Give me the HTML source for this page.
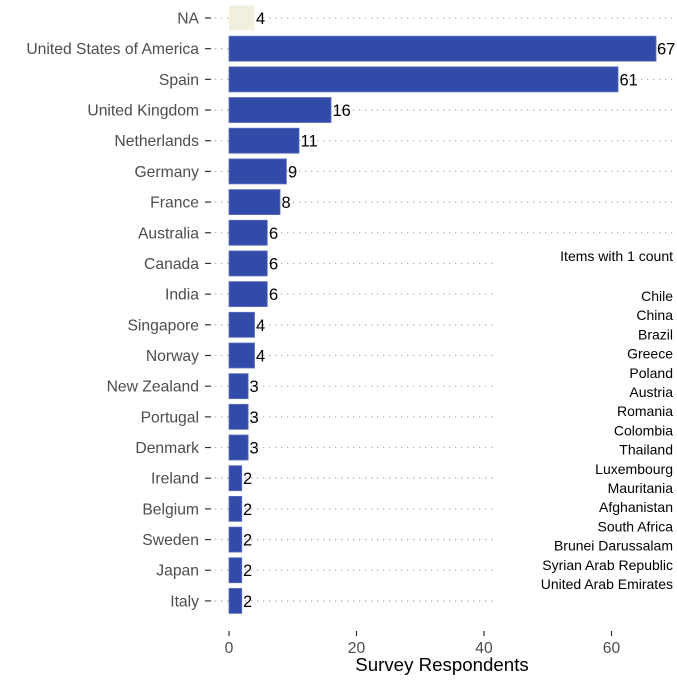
<!DOCTYPE html>
<html><head><style>body{margin:0;background:#fff}</style></head><body>
<svg width="677" height="677" xmlns="http://www.w3.org/2000/svg" font-family="Liberation Sans, sans-serif">
<defs>
<style>
.gl{stroke:#b0b0b0;stroke-width:1.3;stroke-dasharray:1.3,4.7}
.tk{stroke:#333;stroke-width:1.2}
.lb{font-size:15.7px;fill:#4d4d4d;text-anchor:end}
.b{fill:#334ba8;stroke:#5a6fc0;stroke-width:0.8}
.v{font-size:16.5px;fill:#000}
.r{font-size:14px;fill:#000;text-anchor:end}
</style>
</defs>
<g transform="translate(0,18)"><line class="gl" x1="215" x2="685" y1="0" y2="0"/><line class="tk" x1="205" x2="211" y1="0" y2="0"/><text class="lb" x="199" y="5.5">NA</text><rect x="229" y="-12.5" width="25.5" height="25" fill="#f3efdf"/><text class="v" x="256" y="6">4</text></g>
<g transform="translate(0,48.68)"><line class="gl" x1="215" x2="685" y1="0" y2="0"/><line class="tk" x1="205" x2="211" y1="0" y2="0"/><text class="lb" x="199" y="5.5">United States of America</text><rect class="b" x="229" y="-12.5" width="427" height="25"/><text class="v" x="657" y="6">67</text></g>
<g transform="translate(0,79.36)"><line class="gl" x1="215" x2="685" y1="0" y2="0"/><line class="tk" x1="205" x2="211" y1="0" y2="0"/><text class="lb" x="199" y="5.5">Spain</text><rect class="b" x="229" y="-12.5" width="389" height="25"/><text class="v" x="619.5" y="6">61</text></g>
<g transform="translate(0,110.04)"><line class="gl" x1="215" x2="685" y1="0" y2="0"/><line class="tk" x1="205" x2="211" y1="0" y2="0"/><text class="lb" x="199" y="5.5">United Kingdom</text><rect class="b" x="229" y="-12.5" width="102" height="25"/><text class="v" x="332.5" y="6">16</text></g>
<g transform="translate(0,140.72)"><line class="gl" x1="215" x2="685" y1="0" y2="0"/><line class="tk" x1="205" x2="211" y1="0" y2="0"/><text class="lb" x="199" y="5.5">Netherlands</text><rect class="b" x="229" y="-12.5" width="70" height="25"/><text class="v" x="300.5" y="6">11</text></g>
<g transform="translate(0,171.4)"><line class="gl" x1="215" x2="685" y1="0" y2="0"/><line class="tk" x1="205" x2="211" y1="0" y2="0"/><text class="lb" x="199" y="5.5">Germany</text><rect class="b" x="229" y="-12.5" width="57.4" height="25"/><text class="v" x="288" y="6">9</text></g>
<g transform="translate(0,202.08)"><line class="gl" x1="215" x2="685" y1="0" y2="0"/><line class="tk" x1="205" x2="211" y1="0" y2="0"/><text class="lb" x="199" y="5.5">France</text><rect class="b" x="229" y="-12.5" width="51" height="25"/><text class="v" x="281.5" y="6">8</text></g>
<g transform="translate(0,232.76)"><line class="gl" x1="215" x2="685" y1="0" y2="0"/><line class="tk" x1="205" x2="211" y1="0" y2="0"/><text class="lb" x="199" y="5.5">Australia</text><rect class="b" x="229" y="-12.5" width="38.25" height="25"/><text class="v" x="269" y="6">6</text></g>
<g transform="translate(0,263.44)"><line class="gl" x1="215" x2="493" y1="0" y2="0"/><line class="tk" x1="205" x2="211" y1="0" y2="0"/><text class="lb" x="199" y="5.5">Canada</text><rect class="b" x="229" y="-12.5" width="38.25" height="25"/><text class="v" x="269" y="6">6</text></g>
<g transform="translate(0,294.12)"><line class="gl" x1="215" x2="493" y1="0" y2="0"/><line class="tk" x1="205" x2="211" y1="0" y2="0"/><text class="lb" x="199" y="5.5">India</text><rect class="b" x="229" y="-12.5" width="38.25" height="25"/><text class="v" x="269" y="6">6</text></g>
<g transform="translate(0,324.8)"><line class="gl" x1="215" x2="493" y1="0" y2="0"/><line class="tk" x1="205" x2="211" y1="0" y2="0"/><text class="lb" x="199" y="5.5">Singapore</text><rect class="b" x="229" y="-12.5" width="25.5" height="25"/><text class="v" x="256" y="6">4</text></g>
<g transform="translate(0,355.48)"><line class="gl" x1="215" x2="493" y1="0" y2="0"/><line class="tk" x1="205" x2="211" y1="0" y2="0"/><text class="lb" x="199" y="5.5">Norway</text><rect class="b" x="229" y="-12.5" width="25.5" height="25"/><text class="v" x="256" y="6">4</text></g>
<g transform="translate(0,386.16)"><line class="gl" x1="215" x2="493" y1="0" y2="0"/><line class="tk" x1="205" x2="211" y1="0" y2="0"/><text class="lb" x="199" y="5.5">New Zealand</text><rect class="b" x="229" y="-12.5" width="19.1" height="25"/><text class="v" x="249.5" y="6">3</text></g>
<g transform="translate(0,416.84)"><line class="gl" x1="215" x2="493" y1="0" y2="0"/><line class="tk" x1="205" x2="211" y1="0" y2="0"/><text class="lb" x="199" y="5.5">Portugal</text><rect class="b" x="229" y="-12.5" width="19.1" height="25"/><text class="v" x="249.5" y="6">3</text></g>
<g transform="translate(0,447.52)"><line class="gl" x1="215" x2="493" y1="0" y2="0"/><line class="tk" x1="205" x2="211" y1="0" y2="0"/><text class="lb" x="199" y="5.5">Denmark</text><rect class="b" x="229" y="-12.5" width="19.1" height="25"/><text class="v" x="249.5" y="6">3</text></g>
<g transform="translate(0,478.2)"><line class="gl" x1="215" x2="493" y1="0" y2="0"/><line class="tk" x1="205" x2="211" y1="0" y2="0"/><text class="lb" x="199" y="5.5">Ireland</text><rect class="b" x="229" y="-12.5" width="12.75" height="25"/><text class="v" x="243" y="6">2</text></g>
<g transform="translate(0,508.88)"><line class="gl" x1="215" x2="493" y1="0" y2="0"/><line class="tk" x1="205" x2="211" y1="0" y2="0"/><text class="lb" x="199" y="5.5">Belgium</text><rect class="b" x="229" y="-12.5" width="12.75" height="25"/><text class="v" x="243" y="6">2</text></g>
<g transform="translate(0,539.56)"><line class="gl" x1="215" x2="493" y1="0" y2="0"/><line class="tk" x1="205" x2="211" y1="0" y2="0"/><text class="lb" x="199" y="5.5">Sweden</text><rect class="b" x="229" y="-12.5" width="12.75" height="25"/><text class="v" x="243" y="6">2</text></g>
<g transform="translate(0,570.24)"><line class="gl" x1="215" x2="493" y1="0" y2="0"/><line class="tk" x1="205" x2="211" y1="0" y2="0"/><text class="lb" x="199" y="5.5">Japan</text><rect class="b" x="229" y="-12.5" width="12.75" height="25"/><text class="v" x="243" y="6">2</text></g>
<g transform="translate(0,600.92)"><line class="gl" x1="215" x2="493" y1="0" y2="0"/><line class="tk" x1="205" x2="211" y1="0" y2="0"/><text class="lb" x="199" y="5.5">Italy</text><rect class="b" x="229" y="-12.5" width="12.75" height="25"/><text class="v" x="243" y="6">2</text></g>
<line class="tk" x1="229" x2="229" y1="631" y2="636"/><text x="229" y="653" text-anchor="middle" font-size="15.7" fill="#4d4d4d">0</text>
<line class="tk" x1="356.5" x2="356.5" y1="631" y2="636"/><text x="356.5" y="653" text-anchor="middle" font-size="15.7" fill="#4d4d4d">20</text>
<line class="tk" x1="484" x2="484" y1="631" y2="636"/><text x="484" y="653" text-anchor="middle" font-size="15.7" fill="#4d4d4d">40</text>
<line class="tk" x1="611.5" x2="611.5" y1="631" y2="636"/><text x="611.5" y="653" text-anchor="middle" font-size="15.7" fill="#4d4d4d">60</text>
<text x="442" y="671" text-anchor="middle" font-size="18.7" fill="#000">Survey Respondents</text>
<text class="r" x="673" y="261">Items with 1 count</text>
<text class="r" x="673" y="301">Chile</text>
<text class="r" x="673" y="320.2">China</text>
<text class="r" x="673" y="339.4">Brazil</text>
<text class="r" x="673" y="358.6">Greece</text>
<text class="r" x="673" y="377.8">Poland</text>
<text class="r" x="673" y="397">Austria</text>
<text class="r" x="673" y="416.2">Romania</text>
<text class="r" x="673" y="435.4">Colombia</text>
<text class="r" x="673" y="454.6">Thailand</text>
<text class="r" x="673" y="473.8">Luxembourg</text>
<text class="r" x="673" y="493">Mauritania</text>
<text class="r" x="673" y="512.2">Afghanistan</text>
<text class="r" x="673" y="531.4">South Africa</text>
<text class="r" x="673" y="550.6">Brunei Darussalam</text>
<text class="r" x="673" y="569.8">Syrian Arab Republic</text>
<text class="r" x="673" y="589">United Arab Emirates</text>
</svg>
</body></html>
